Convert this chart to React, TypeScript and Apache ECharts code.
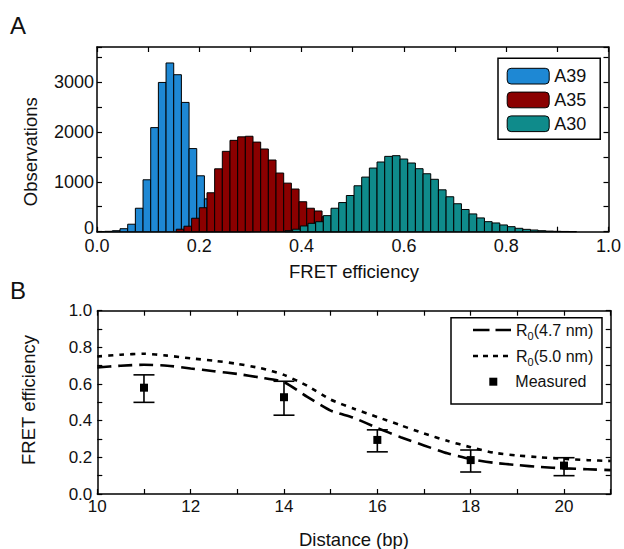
import React, { useEffect, useRef } from "react";
import * as echarts from "echarts";

// ---------- Panel A: FRET efficiency histograms ----------
const BIN_WIDTH = 0.015;
const A39_START = 0.0;
const A39_COUNTS = [3, 8, 20, 60, 150, 470, 1040, 2085, 2990, 3380, 3145, 2590, 1665, 1120, 658, 350, 180, 80, 30, 10];
const A35_START = 0.155;
const A35_COUNTS = [50, 110, 270, 480, 780, 1260, 1610, 1830, 1900, 1912, 1795, 1657, 1436, 1175, 973, 855, 600, 470, 415, 300, 170, 90, 40, 15];
const A30_START = 0.3675;
const A30_COUNTS = [20, 50, 115, 168, 200, 322, 470, 584, 725, 920, 1094, 1275, 1396, 1509, 1523, 1456, 1376, 1262, 1161, 1050, 839, 700, 560, 445, 356, 276, 201, 175, 135, 101, 68, 47, 34, 20, 12, 8, 5, 3];

// ---------- Panel B: FRET efficiency vs distance ----------
const DISTANCE_BP = [10, 10.5, 11, 11.5, 12, 12.5, 13, 13.5, 14, 14.5, 15, 15.5, 16, 16.5, 17, 17.5, 18, 18.5, 19, 19.5, 20, 20.5, 21];
const R0_47 = [0.69, 0.7, 0.705, 0.7, 0.685, 0.67, 0.655, 0.635, 0.61, 0.53, 0.455, 0.415, 0.36, 0.31, 0.265, 0.222, 0.19, 0.17, 0.158, 0.147, 0.14, 0.135, 0.13];
const R0_50 = [0.75, 0.76, 0.765, 0.755, 0.74, 0.727, 0.71, 0.686, 0.65, 0.59, 0.515, 0.465, 0.42, 0.375, 0.33, 0.29, 0.255, 0.225, 0.21, 0.2, 0.192, 0.185, 0.18];
const MEAS_X = [11, 14, 16, 18, 20];
const MEAS_Y = [0.58, 0.528, 0.295, 0.185, 0.155];
const MEAS_LOW = [0.5, 0.43, 0.23, 0.12, 0.1];
const MEAS_HIGH = [0.65, 0.615, 0.35, 0.24, 0.198];

const FONT = "'Liberation Sans', Arial, Helvetica, sans-serif";
const TXT = "#111";

// legend line samples drawn as filled dash rectangles inside a 38x14 box
const ICON_DASHED = "path://M0,0M38,14M0,5.7h16.5v2.6h-16.5zM22.5,5.7h15.5v2.6h-15.5z";
const ICON_DOTTED = "path://M0,0M38,14M0,5.7h5v2.6h-5zM10,5.7h5v2.6h-5zM20,5.7h5v2.6h-5zM30,5.7h5v2.6h-5z";

const histData = (start: number, counts: number[]) =>
  counts.map((c, i) => [start + i * BIN_WIDTH, c]);

const histRender = (color: string) => (params: any, api: any) => {
  const x0 = api.value(0);
  const v = api.value(1);
  const tl = api.coord([x0, v]);
  const br = api.coord([x0 + BIN_WIDTH, 0]);
  return {
    type: "rect",
    shape: { x: tl[0], y: tl[1], width: br[0] - tl[0], height: br[1] - tl[1] },
    style: { fill: color, stroke: "#000", lineWidth: 1 },
  };
};

const axisLine = { show: true, onZero: false, lineStyle: { color: "#000", width: 1.5 } };
const axisTick = { show: true, inside: true, length: 5, lineStyle: { color: "#000", width: 1.2 } };

const COLORS = { A39: "#1e88d4", A35: "#8b0000", A30: "#0f8b8b" };

const option: any = {
  animation: false,
  backgroundColor: "#fff",
  grid: [
    { left: 97, right: 13, top: 47, height: 184.7 },
    { left: 97.3, right: 13.3, top: 310.7, height: 183.3 },
  ],
  xAxis: [
    {
      gridIndex: 0, type: "value", min: 0, max: 1, interval: 0.1,
      axisLine, axisTick, splitLine: { show: false },
      axisLabel: {
        fontSize: 18, lineHeight: 13, fontFamily: FONT, color: TXT, margin: 8,
        formatter: (v: number) => (Math.round(v * 10) % 2 === 0 ? v.toFixed(1) : ""),
      },
    },
    {
      gridIndex: 0, type: "value", min: 0, max: 1, interval: 0.1, position: "top",
      axisLine, axisTick, splitLine: { show: false }, axisLabel: { show: false },
    },
    {
      gridIndex: 1, type: "value", min: 10, max: 21, interval: 1,
      axisLine, axisTick, splitLine: { show: false },
      axisLabel: {
        fontSize: 17, lineHeight: 12, fontFamily: FONT, color: TXT, margin: 6,
        formatter: (v: number) => (Math.round(v) % 2 === 0 ? String(Math.round(v)) : ""),
      },
    },
    {
      gridIndex: 1, type: "value", min: 10, max: 21, interval: 1, position: "top",
      axisLine, axisTick, splitLine: { show: false }, axisLabel: { show: false },
    },
  ],
  yAxis: [
    {
      gridIndex: 0, type: "value", min: 0, max: 3700, interval: 500,
      axisLine, axisTick, splitLine: { show: false },
      axisLabel: {
        fontSize: 18, lineHeight: 13, fontFamily: FONT, color: TXT, margin: 3,
        formatter: (v: number) => {
          const r = Math.round(v);
          if (r === 0) return "{z|0}";
          return r % 1000 === 0 ? String(r) : "";
        },
        rich: {
          z: { fontSize: 18, lineHeight: 13, fontFamily: FONT, color: TXT, padding: [0, 0, 8, 0] },
        },
      },
    },
    {
      gridIndex: 0, type: "value", min: 0, max: 3700, interval: 500, position: "right",
      axisLine, axisTick, splitLine: { show: false }, axisLabel: { show: false },
    },
    {
      gridIndex: 1, type: "value", min: 0, max: 1, interval: 0.1,
      axisLine, axisTick, splitLine: { show: false },
      axisLabel: {
        fontSize: 17, lineHeight: 12, fontFamily: FONT, color: TXT, margin: 5,
        formatter: (v: number) => (Math.round(v * 10) % 2 === 0 ? v.toFixed(1) : ""),
      },
    },
    {
      gridIndex: 1, type: "value", min: 0, max: 1, interval: 0.1, position: "right",
      axisLine, axisTick, splitLine: { show: false }, axisLabel: { show: false },
    },
  ],
  legend: [
    {
      data: ["A39", "A35", "A30"],
      orient: "vertical",
      left: 498, top: 58.3,
      padding: [8.85, 14, 6.5, 8.7],
      itemWidth: 42, itemHeight: 15.7, itemGap: 5.8,
      borderColor: "#000", borderWidth: 1.5, backgroundColor: "#fff",
      itemStyle: { borderColor: "#000", borderWidth: 1 },
      textStyle: { fontSize: 18, lineHeight: 18, fontFamily: FONT, color: TXT },
      selectedMode: false, z: 10,
    },
    {
      data: [
        { name: "R0(4.7 nm)", icon: ICON_DASHED },
        { name: "R0(5.0 nm)", icon: ICON_DOTTED },
      ],
      orient: "vertical",
      left: 473, top: 319, padding: 0,
      itemWidth: 38, itemHeight: 14, itemGap: 4,
      itemStyle: { color: "#000", borderWidth: 0 },
      selectedMode: false, z: 10,
      formatter: (name: string) =>
        name === "R0(4.7 nm)" ? "{a|R}{s|0}{a|(4.7 nm)}" : "{a|R}{s|0}{a|(5.0 nm)}",
      textStyle: {
        fontSize: 16, lineHeight: 22, fontFamily: FONT, color: TXT,
        rich: {
          a: { fontSize: 16, lineHeight: 22, fontFamily: FONT, color: TXT },
          s: { fontSize: 11, lineHeight: 11, fontFamily: FONT, color: TXT, verticalAlign: "bottom" },
        },
      },
    },
    {
      data: ["Measured"],
      orient: "vertical",
      left: 489.3, top: 370.7, padding: 0,
      itemWidth: 8, itemHeight: 8,
      itemStyle: { color: "#000", opacity: 1 },
      selectedMode: false, z: 10,
      textStyle: { fontSize: 16, lineHeight: 22, fontFamily: FONT, color: TXT, padding: [0, 0, 0, 13] },
    },
  ],
  graphic: [
    { type: "text", left: 10, top: 13, style: { text: "A", fontSize: 24, fontFamily: FONT, fill: TXT } },
    { type: "text", left: 10, top: 278.5, style: { text: "B", fontSize: 24, fontFamily: FONT, fill: TXT } },
    {
      type: "text", x: 30, y: 151.7, rotation: Math.PI / 2,
      style: { text: "Observations", fontSize: 18.5, fontFamily: FONT, fill: TXT, align: "center", verticalAlign: "middle" },
    },
    {
      type: "text", x: 354, y: 271,
      style: { text: "FRET efficiency", fontSize: 18.5, fontFamily: FONT, fill: TXT, align: "center", verticalAlign: "middle" },
    },
    {
      type: "text", x: 28, y: 400, rotation: Math.PI / 2,
      style: { text: "FRET efficiency", fontSize: 18.5, fontFamily: FONT, fill: TXT, align: "center", verticalAlign: "middle" },
    },
    {
      type: "text", x: 354, y: 539,
      style: { text: "Distance (bp)", fontSize: 18.5, fontFamily: FONT, fill: TXT, align: "center", verticalAlign: "middle" },
    },
    {
      type: "rect", z: 5,
      shape: { x: 451, y: 317.7, width: 151, height: 86.3 },
      style: { fill: "#fff", stroke: "#000", lineWidth: 1.5 },
    },
  ],
  series: [
    {
      name: "A39", type: "custom", coordinateSystem: "cartesian2d", xAxisIndex: 0, yAxisIndex: 0,
      renderItem: histRender(COLORS.A39), encode: { x: 0, y: 1 },
      itemStyle: { color: COLORS.A39, borderColor: "#000", borderWidth: 1 },
      data: histData(A39_START, A39_COUNTS), z: 2,
    },
    {
      name: "A35", type: "custom", coordinateSystem: "cartesian2d", xAxisIndex: 0, yAxisIndex: 0,
      renderItem: histRender(COLORS.A35), encode: { x: 0, y: 1 },
      itemStyle: { color: COLORS.A35, borderColor: "#000", borderWidth: 1 },
      data: histData(A35_START, A35_COUNTS), z: 3,
    },
    {
      name: "A30", type: "custom", coordinateSystem: "cartesian2d", xAxisIndex: 0, yAxisIndex: 0,
      renderItem: histRender(COLORS.A30), encode: { x: 0, y: 1 },
      itemStyle: { color: COLORS.A30, borderColor: "#000", borderWidth: 1 },
      data: histData(A30_START, A30_COUNTS), z: 4,
    },
    {
      name: "R0(4.7 nm)", type: "line", xAxisIndex: 2, yAxisIndex: 2,
      symbol: "none", showSymbol: false, smooth: 0.2,
      lineStyle: { color: "#000", width: 2.6, type: [14, 7] },
      itemStyle: { color: "#000" },
      data: DISTANCE_BP.map((x, i) => [x, R0_47[i]]),
    },
    {
      name: "R0(5.0 nm)", type: "line", xAxisIndex: 2, yAxisIndex: 2,
      symbol: "none", showSymbol: false, smooth: 0.2,
      lineStyle: { color: "#000", width: 2.6, type: [5, 6] },
      itemStyle: { color: "#000" },
      data: DISTANCE_BP.map((x, i) => [x, R0_50[i]]),
    },
    {
      name: "errors", type: "custom", coordinateSystem: "cartesian2d", xAxisIndex: 2, yAxisIndex: 2,
      encode: { x: 0, y: [1, 2] },
      renderItem: (params: any, api: any) => {
        const x = api.value(0);
        const lo = api.coord([x, api.value(1)]);
        const hi = api.coord([x, api.value(2)]);
        const half = 10.5;
        const st = { stroke: "#000", lineWidth: 1.6 };
        return {
          type: "group",
          children: [
            { type: "line", shape: { x1: lo[0], y1: lo[1], x2: hi[0], y2: hi[1] }, style: st },
            { type: "line", shape: { x1: lo[0] - half, y1: lo[1], x2: lo[0] + half, y2: lo[1] }, style: st },
            { type: "line", shape: { x1: hi[0] - half, y1: hi[1], x2: hi[0] + half, y2: hi[1] }, style: st },
          ],
        };
      },
      data: MEAS_X.map((x, i) => [x, MEAS_LOW[i], MEAS_HIGH[i]]),
      z: 4,
    },
    {
      name: "Measured", type: "scatter", xAxisIndex: 2, yAxisIndex: 2,
      symbol: "rect", symbolSize: 8,
      itemStyle: { color: "#000", opacity: 1 },
      data: MEAS_X.map((x, i) => [x, MEAS_Y[i]]),
      z: 5,
    },
  ],
};

export default function App() {
  const ref = useRef<HTMLDivElement>(null);
  useEffect(() => {
    if (!ref.current) return;
    const chart = echarts.init(ref.current, null, { renderer: "svg" });
    chart.setOption(option);
    return () => chart.dispose();
  }, []);
  return (
    <div
      ref={ref}
      style={{ position: "fixed", left: 0, top: 0, width: 624, height: 549, background: "#fff" }}
    />
  );
}
